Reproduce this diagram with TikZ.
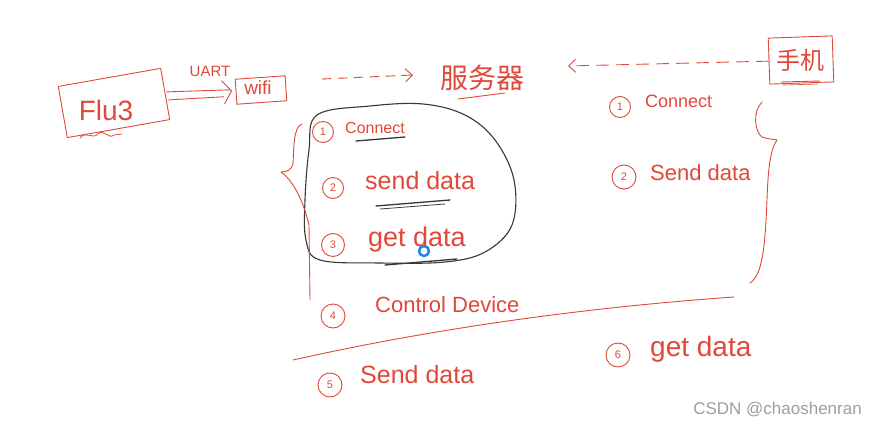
\documentclass[tikz,border=0pt]{standalone}
\usepackage{fontspec}
\setmainfont{Liberation Sans}
\newfontfamily\cjk{Noto Sans CJK SC}
\usetikzlibrary{calc,arrows.meta}
\definecolor{ink}{RGB}{226,72,58}
\definecolor{pen}{RGB}{55,55,55}
\definecolor{cursorblue}{RGB}{30,136,229}
\begin{document}
\begin{tikzpicture}[x=1pt,y=-1pt,line cap=round,line join=round,
  redline/.style={draw=ink,line width=0.9pt},
  penline/.style={draw=pen,line width=1.3pt},
  dashline/.style={draw=ink,line width=0.9pt,dash pattern=on 9pt off 7pt,-{Straight Barb[length=7pt,width=13pt]}},
  lbl/.style={text=ink,inner sep=0pt,anchor=west},
  box/.style={draw=ink,line width=0.9pt,inner sep=0pt},
  num/.style={circle,draw=ink,line width=0.9pt,text=ink,inner sep=0pt,minimum size=21pt,font=\fontsize{11}{11}\selectfont}]
\useasboundingbox (0,0) rectangle (873,428);
\fill[white] (0,0) rectangle (873,428);

% F103 and wifi
\node[box,rotate=10,minimum width=104pt,minimum height=52pt] (f103) at (114,103) {};
\node[lbl,anchor=center,font=\fontsize{28}{28}\selectfont] (f103t) at (106,110) {Flu3};
\draw[redline,line width=0.8pt] (80,138) .. controls (86,130) and (92,140) .. (98,134) .. controls (104,128) and (108,140) .. (114,135) -- (122,134);
\node[box,rotate=4,minimum width=50pt,minimum height=25pt] (wifi) at (261,90) {};
\node[lbl,anchor=center,font=\fontsize{19}{19}\selectfont] (wifit) at (258,88) {wifi};
\node[lbl,anchor=center,font=\fontsize{15}{15}\selectfont] (uart) at (210,71) {UART};
\draw[redline] ($(f103.east)+(1,-2)$) -- ($(wifi.west)+(-5,-2)$);
\draw[redline] ($(f103.east)+(3,6)$) -- ($(wifi.west)+(-12,5)$);
\draw[redline] ($(wifi.west)+(-14,-11)$) -- ($(wifi.west)+(-4,-1)$) -- ($(wifi.west)+(-11,12)$);

% server
\node[text=ink,font=\cjk\fontsize{28}{28}\selectfont,inner sep=0pt] (server) at (482,78) {服务器};
\draw[redline] (458,99) -- (505,93);
\coordinate (d1s) at (322,79);
\coordinate (d1e) at (413,75);
\draw[dashline] (d1s) -- (d1e);

% phone
\node[box,rotate=2,minimum width=64pt,minimum height=46pt] (phone) at (801,60) {};
\node[text=ink,font=\cjk\fontsize{24}{24}\selectfont,inner sep=0pt] (phonet) at (800,60) {手机};
\draw[redline] (781,82) -- (820,81);
\draw[redline,line width=0.6pt] (783,85) -- (818,84);
\coordinate (d2e) at (568,66);
\draw[dashline,dash pattern=on 12pt off 8pt] (phone.west) -- (d2e);

% black blob
\draw[penline,line width=1.1pt] plot[smooth cycle,tension=0.6] coordinates {(317,115) (370,106) (423,104) (465,115) (495,140) (514,180) (512,225) (485,252) (445,262) (380,263) (320,260) (306,240) (305,200) (309,150)};

% left list
\node[num] (n1) at (323,132) {1};
\node[lbl,font=\fontsize{16}{16}\selectfont] (t1) at (345,128) {Connect};
\draw[penline] (356,141) -- (405,137);
\node[num] (n2) at (333,188) {2};
\node[lbl,font=\fontsize{25}{25}\selectfont] (t2) at (365,181) {send data};
\draw[penline] (376,206) -- (450,200);
\draw[penline,line width=0.8pt] (380,209) -- (445,204);
\node[num,minimum size=23pt] (n3) at (333,245) {3};
\node[lbl,font=\fontsize{27}{27}\selectfont] (t3) at (368,240) {get data};
\draw[penline] (385,265) -- (457,259);
\node[num,minimum size=24pt] (n4) at (333,316) {4};
\node[lbl,font=\fontsize{22}{22}\selectfont] (t4) at (375,305) {Control Device};
\node[num,minimum size=24pt] (n5) at (330,385) {5};
\node[lbl,font=\fontsize{25}{25}\selectfont] (t5) at (360,375) {Send data};
\node[num,minimum size=24pt] (n6) at (618,355) {6};
\node[lbl,font=\fontsize{28}{28}\selectfont] (t6) at (650,349) {get data};

% right list
\node[num] (r1) at (620,107) {1};
\node[lbl,font=\fontsize{18}{18}\selectfont] (rt1) at (645,101) {Connect};
\node[num,minimum size=24pt] (r2) at (624,177) {2};
\node[lbl,font=\fontsize{22}{22}\selectfont] (rt2) at (650,173) {Send data};

% braces and divider
\draw[redline] (302,124) .. controls (293,127) and (294,150) .. (293,163) .. controls (292,170) and (287,172) .. (281,172) .. controls (290,178) and (302,195) .. (309,225) -- (310,300);
\draw[redline] (762,102) .. controls (752,112) and (755,132) .. (762,137) .. controls (767,139) and (773,139) .. (777,140) .. controls (770,150) and (768,170) .. (767,200) .. controls (765,250) and (762,275) .. (750,283);
\draw[redline] (293,360) .. controls (400,336) and (550,310) .. (734,297);

% cursor mark and watermark
\draw[draw=cursorblue,line width=2.5pt,fill=white] (424,251) circle (5pt);
\node[text=gray!75,font=\fontsize{17}{17}\selectfont,anchor=east,inner sep=0pt] (wm) at (862,410) {CSDN @chaoshenran};
\end{tikzpicture}
\end{document}
